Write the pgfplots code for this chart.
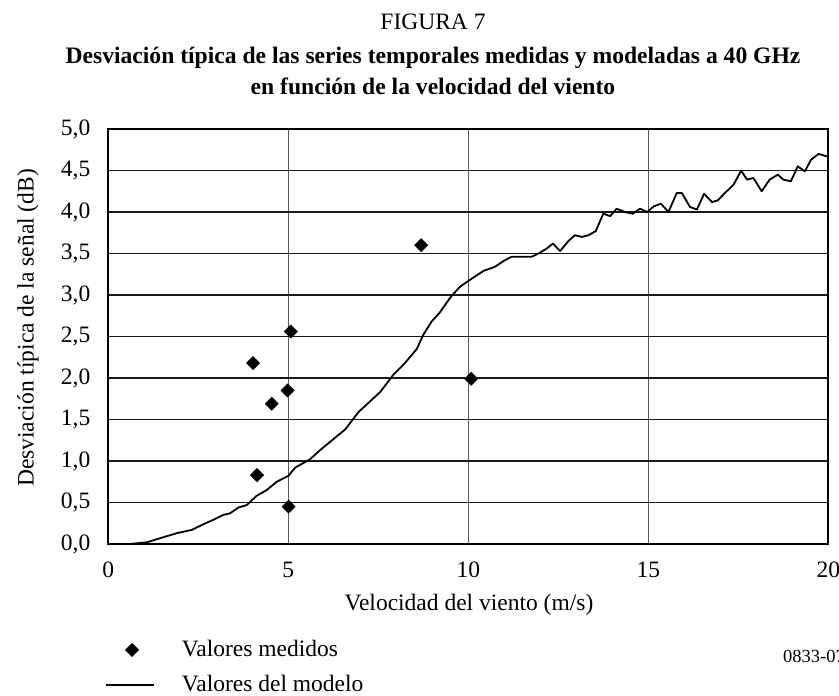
\documentclass[border=0pt]{standalone}
\usepackage{pgfplots}
\pgfplotsset{compat=1.18}
\usepackage{fontspec}
\setmainfont{Liberation Serif}
\begin{document}
\fontsize{23.5pt}{28pt}\selectfont
\begin{tikzpicture}[x=1pt,y=1pt,font=\fontsize{23.5pt}{28pt}\selectfont]
\useasboundingbox (0,0) rectangle (839,696);
\node at (433,674) {FIGURA 7};
\node[font=\fontsize{23.6pt}{28pt}\selectfont\bfseries] at (433,638) {Desviación típica de las series temporales medidas y modeladas a 40 GHz};
\node[font=\fontsize{23.6pt}{28pt}\selectfont\bfseries] at (433,610) {en función de la velocidad del viento};
\node at (469,91) {Velocidad del viento (m/s)};
\node[rotate=90] at (28,368) {Desviación típica de la señal (dB)};
\node[anchor=west,inner sep=0pt,font=\fontsize{18.5pt}{22pt}\selectfont] at (783,40) {0833-07};
\begin{axis}[
  at={(108.3pt,152pt)}, anchor=south west,
  width=720pt, height=415pt, scale only axis,
  xmin=0, xmax=20, ymin=0, ymax=5,
  xtick={0,5,10,15,20}, ytick={0,0.5,...,5.01},
  major tick length=0pt,
  axis line style={line width=2pt, black},
  grid=major,
  x grid style={line width=1.3pt, black!65},
  y grid style={line width=1.3pt, black!90},
  /pgf/number format/assume math mode=true,
  yticklabel={\pgfmathprintnumber[fixed, fixed zerofill, precision=1, use comma]{\tick}},
  xticklabel={\pgfmathprintnumber[fixed, precision=0]{\tick}},
  yticklabel style={xshift=-10pt},
  xticklabel style={yshift=-10pt},
  legend cell align=left,
  legend style={at={(axis description cs:-0.0046,-0.232)}, anchor=north west, draw=none, fill=none, inner sep=0pt, row sep=16pt,
    font=\fontsize{23.5pt}{28pt}\selectfont, nodes={inner sep=0pt, text height=16pt, text depth=3pt}, column sep=27pt},
  legend image code/.code={\draw[mark repeat=2,mark phase=2,#1] plot coordinates {(0pt,0pt) (26pt,0pt) (48pt,0pt)};},
]
\addplot[only marks, mark=square*, mark size=4.7pt, mark options={rotate=45, fill=black, draw=black}] coordinates {
(8.69,3.60) (5.07,2.56) (4.02,2.18) (4.98,1.85) (4.54,1.69) (10.08,1.99) (4.13,0.83) (5.01,0.45)
};
\addlegendentry{Valores medidos}
\addplot[black, line width=1.8pt, mark=none, line join=round] coordinates {
(0.23,0) (0.6,0) (1.07,0.02) (1.44,0.07) (1.9,0.13) (2.32,0.17) (2.65,0.24) (2.96,0.30)
(3.19,0.35) (3.38,0.37) (3.62,0.44) (3.85,0.47) (4.12,0.58) (4.4,0.65) (4.68,0.75) (5.0,0.82)
(5.19,0.92) (5.6,1.02) (5.88,1.13) (6.16,1.23) (6.58,1.38) (6.95,1.59) (7.55,1.83) (7.92,2.04)
(8.24,2.18) (8.57,2.35) (8.75,2.52) (8.98,2.68) (9.21,2.79) (9.5,2.97) (9.77,3.10) (10.14,3.21)
(10.42,3.29) (10.74,3.34) (11.02,3.42) (11.2,3.46) (11.76,3.46) (11.99,3.51) (12.18,3.56) (12.35,3.62)
(12.55,3.53) (12.78,3.65) (12.96,3.72) (13.15,3.70) (13.34,3.72) (13.54,3.77) (13.75,3.98) (13.94,3.95)
(14.12,4.04) (14.35,4.00) (14.57,3.98) (14.77,4.04) (14.97,4.00) (15.16,4.07) (15.35,4.10) (15.56,4.00)
(15.79,4.23) (15.93,4.23) (16.16,4.06) (16.35,4.03) (16.55,4.22) (16.77,4.12) (16.93,4.14) (17.13,4.23)
(17.37,4.33) (17.58,4.50) (17.74,4.39) (17.92,4.41) (18.15,4.25) (18.37,4.39) (18.6,4.45) (18.75,4.39)
(18.96,4.37) (19.15,4.55) (19.35,4.49) (19.52,4.63) (19.73,4.70) (19.96,4.67)
};
\addlegendentry{Valores del modelo}
\end{axis}
\end{tikzpicture}
\end{document}
